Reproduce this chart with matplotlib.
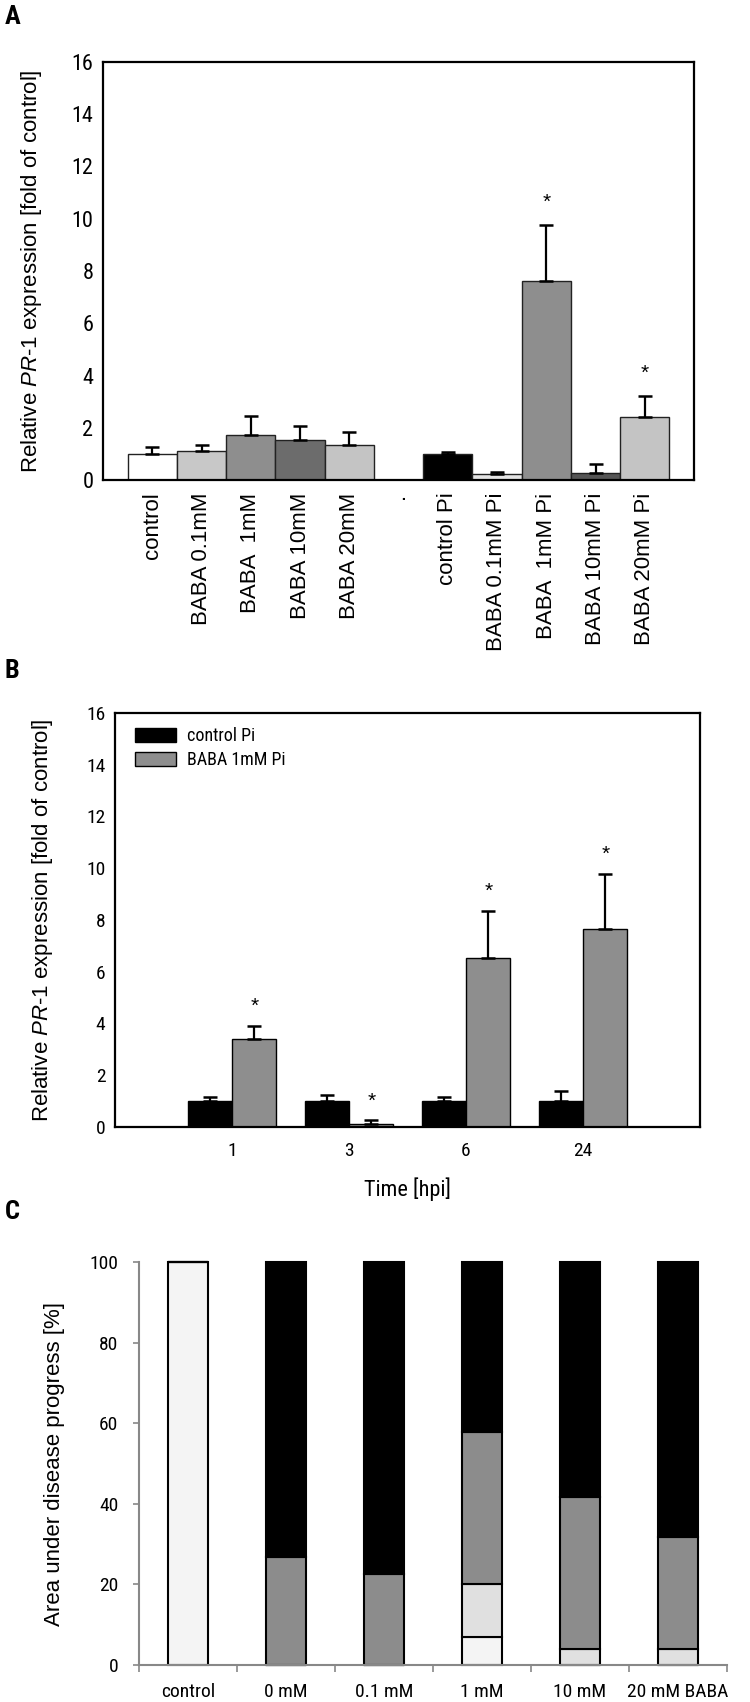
import matplotlib
matplotlib.use("Agg")
import matplotlib.pyplot as plt
import numpy as np
from matplotlib import font_manager
from matplotlib.patches import Patch

# fonts: regular Arial-like text plus a narrow face for the tick numbers
names = {f.name for f in font_manager.fontManager.ttflist}
NARROW = "Liberation Sans"
for cand in ["Liberation Sans Narrow", "Arial Narrow", "Roboto Condensed", "Archivo Narrow"]:
    if cand in names:
        NARROW = cand
        break
plt.rcParams["font.family"] = ["Liberation Sans", "DejaVu Sans"]
plt.rcParams["mathtext.fontset"] = "custom"
plt.rcParams["mathtext.it"] = "Liberation Sans:italic"
plt.rcParams["mathtext.rm"] = "Liberation Sans"

# ---- panel A data ----
a_labels = ["control", "BABA 0.1mM", "BABA  1mM", "BABA 10mM", "BABA 20mM", ".",
            "control Pi", "BABA 0.1mM Pi", "BABA  1mM Pi", "BABA 10mM Pi", "BABA 20mM Pi"]
a_slots = [0, 1, 2, 3, 4, 6, 7, 8, 9, 10]
a_values = [1.00, 1.12, 1.72, 1.53, 1.34, 1.00, 0.22, 7.60, 0.26, 2.43]
a_err = [0.25, 0.21, 0.73, 0.55, 0.49, 0.07, 0.10, 2.17, 0.35, 0.79]
a_colors = ["#ffffff", "#c8c8c8", "#8e8e8e", "#6c6c6c", "#c4c4c4",
            "#000000", "#e4e4e4", "#8e8e8e", "#555555", "#c4c4c4"]
a_sig = [False, False, False, False, False, False, False, True, False, True]

# ---- panel B data ----
b_times = ["1", "3", "6", "24"]
b_ctrl = [1.00, 1.00, 1.00, 1.00]
b_ctrl_err = [0.15, 0.25, 0.15, 0.38]
b_baba = [3.41, 0.10, 6.53, 7.64]
b_baba_err = [0.50, 0.16, 1.82, 2.14]
b_sig = [True, True, True, True]

# ---- panel C data (stacked segments, bottom to top) ----
c_cats = ["control", "0 mM", "0.1 mM", "1 mM", "10 mM", "20 mM BABA"]
c_seg1 = [100, 0, 0, 7, 0, 0]
c_seg2 = [0, 0, 0, 13, 4, 4]
c_seg3 = [0, 26.8, 22.7, 37.8, 37.8, 27.7]
c_seg4 = [0, 73.2, 77.3, 42.2, 58.2, 68.3]
c_colors = ["#f4f4f4", "#e0e0e0", "#8c8c8c", "#000000"]

ylab = "Relative $\\mathit{PR}$-$\\mathit{1}$ expression [fold of control]"

fig = plt.figure(figsize=(7.5, 17.02), dpi=100)
W, H = 750.0, 1702.0

def box(l, t, r, b):
    return [l / W, 1 - b / H, (r - l) / W, (b - t) / H]

# ================= A =================
ax = fig.add_axes(box(103, 62, 694, 480))
ax.bar(a_slots, a_values, width=1.0, color=a_colors, edgecolor="#222222", linewidth=1.0, zorder=2)
ax.errorbar(a_slots, a_values, yerr=[np.zeros(len(a_err)), a_err], fmt="none",
            ecolor="black", elinewidth=1.6, capsize=5, capthick=1.8, zorder=3)
for x, v, e, s in zip(a_slots, a_values, a_err, a_sig):
    if s:
        ax.text(x, v + e + 0.85, "*", ha="center", va="center", fontsize=15)
ax.set_xlim(-1, 11)
ax.set_ylim(0, 16)
ax.set_yticks(range(0, 17, 2))
ax.set_xticks(range(11))
ax.set_xticklabels(a_labels, rotation=90, fontsize=16, va="top")
ax.tick_params(axis="both", length=0)
ax.tick_params(axis="x", pad=9)
ax.tick_params(axis="y", pad=7)
for t in ax.get_yticklabels():
    t.set_fontfamily(NARROW)
    t.set_fontsize(16)
ax.set_ylabel(ylab, fontsize=16)
ax.yaxis.set_label_coords(-0.10, 0.5)
for sp in ax.spines.values():
    sp.set_linewidth(1.6)
fig.text(5 / W, 1 - 17 / H, "A", fontsize=19, fontweight="bold", family=NARROW, va="center")

# ================= B =================
bx = fig.add_axes(box(115, 713, 700, 1127))
xb = np.arange(len(b_times))
w = 0.38
bx.bar(xb - w / 2, b_ctrl, width=w, color="black", edgecolor="black", linewidth=1.0, zorder=2)
bx.bar(xb + w / 2, b_baba, width=w, color="#8e8e8e", edgecolor="black", linewidth=1.0, zorder=2)
bx.errorbar(xb - w / 2, b_ctrl, yerr=[np.zeros(4), b_ctrl_err], fmt="none",
            ecolor="black", elinewidth=1.6, capsize=5, capthick=1.8, zorder=3)
bx.errorbar(xb + w / 2, b_baba, yerr=[np.zeros(4), b_baba_err], fmt="none",
            ecolor="black", elinewidth=1.6, capsize=5, capthick=1.8, zorder=3)
for x, v, e, s in zip(xb + w / 2, b_baba, b_baba_err, b_sig):
    if s:
        bx.text(x, v + e + 0.75, "*", ha="center", va="center", fontsize=15)
bx.set_xlim(-1, 4)
bx.set_ylim(0, 16)
bx.set_yticks(range(0, 17, 2))
bx.set_xticks(xb)
bx.set_xticklabels(b_times)
bx.tick_params(axis="both", length=0)
bx.tick_params(axis="x", pad=11)
bx.tick_params(axis="y", pad=7)
for t in bx.get_xticklabels() + bx.get_yticklabels():
    t.set_fontfamily(NARROW)
    t.set_fontsize(14)
bx.set_ylabel(ylab, fontsize=16)
bx.yaxis.set_label_coords(-0.103, 0.5)
bx.set_xlabel("Time [hpi]", fontsize=16, family=NARROW, labelpad=12)
for sp in bx.spines.values():
    sp.set_linewidth(1.6)
handles = [Patch(facecolor="black", edgecolor="black", label="control Pi"),
           Patch(facecolor="#8e8e8e", edgecolor="black", label="BABA 1mM Pi")]
bx.legend(handles=handles, loc="upper left", bbox_to_anchor=(0.034, 0.965), frameon=False,
          prop={"family": NARROW, "size": 13}, handlelength=2.3, handleheight=0.8,
          handletextpad=0.6, labelspacing=0.3, borderpad=0, borderaxespad=0)
fig.text(5 / W, 1 - 671 / H, "B", fontsize=19, fontweight="bold", family=NARROW, va="center")

# ================= C =================
cx = fig.add_axes(box(139, 1262, 727, 1665))
xc = np.arange(len(c_cats))
bottom = np.zeros(len(c_cats))
for seg, col in zip([c_seg1, c_seg2, c_seg3, c_seg4], c_colors):
    seg = np.array(seg, dtype=float)
    cx.bar(xc, seg, bottom=bottom, width=0.4, color=col, edgecolor="black",
           linewidth=1.5, zorder=2, clip_on=False)
    bottom += seg
cx.set_xlim(-0.5, len(c_cats) - 0.5)
cx.set_ylim(0, 100)
cx.set_yticks(range(0, 101, 20))
cx.set_xticks(xc)
cx.set_xticklabels(c_cats)
cx.set_xticks(np.arange(-0.5, len(c_cats)), minor=True)
cx.tick_params(axis="x", which="major", length=0, pad=13)
cx.tick_params(axis="x", which="minor", length=5, width=1.2, color="#888888", direction="out")
cx.tick_params(axis="y", length=4, width=1.2, color="#888888", pad=11)
for t in cx.get_xticklabels() + cx.get_yticklabels():
    t.set_fontfamily(NARROW)
    t.set_fontsize(14)
cx.set_ylabel("Area under disease progress [%]", fontsize=16)
cx.yaxis.set_label_coords(-0.126, 0.5)
cx.spines["top"].set_visible(False)
cx.spines["right"].set_visible(False)
for s in ["left", "bottom"]:
    cx.spines[s].set_color("#888888")
    cx.spines[s].set_linewidth(1.5)
fig.text(5 / W, 1 - 1212 / H, "C", fontsize=19, fontweight="bold", family=NARROW, va="center")

fig.savefig("out.png", dpi=100)
